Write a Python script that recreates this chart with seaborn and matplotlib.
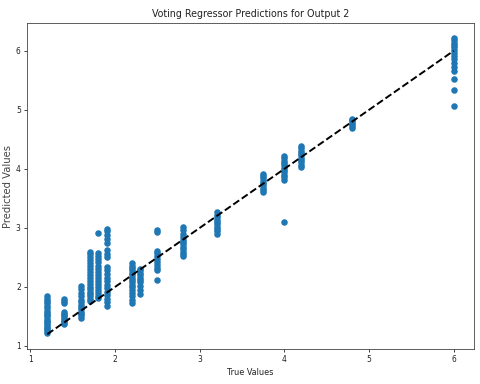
import numpy as np
import pandas as pd
import matplotlib
matplotlib.use("Agg")
import matplotlib.pyplot as plt
import seaborn as sns

# Predicted values grouped by their true value
true_levels = [1.2, 1.4, 1.6, 1.7, 1.8, 1.9, 2.2, 2.3, 2.5, 2.8, 3.2, 3.75, 4.0, 4.2, 4.8, 6.0]
pred_1_2 = [1.22, 1.25, 1.28, 1.31, 1.34, 1.37, 1.40, 1.43, 1.46, 1.50, 1.53, 1.56, 1.60, 1.64, 1.68, 1.72, 1.76, 1.80, 1.84]
pred_1_4 = [1.37, 1.40, 1.43, 1.46, 1.49, 1.52, 1.55, 1.58, 1.72, 1.76, 1.80]
pred_1_6 = [1.48, 1.52, 1.55, 1.58, 1.62, 1.66, 1.70, 1.74, 1.78, 1.84, 1.90, 1.96, 2.01]
pred_1_7 = [1.76, 1.80, 1.84, 1.88, 1.92, 1.96, 2.00, 2.05, 2.10, 2.15, 2.20, 2.25, 2.30, 2.35, 2.40, 2.45, 2.50, 2.55, 2.60]
pred_1_8 = [1.81, 1.85, 1.90, 1.95, 2.00, 2.05, 2.10, 2.15, 2.20, 2.25, 2.30, 2.36, 2.42, 2.48, 2.53, 2.58, 2.92]
pred_1_9 = [1.68, 1.74, 1.80, 1.86, 1.92, 1.98, 2.04, 2.10, 2.16, 2.22, 2.28, 2.34, 2.50, 2.56, 2.62, 2.75, 2.82, 2.88, 2.94, 2.98]
pred_2_2 = [1.72, 1.78, 1.84, 1.90, 1.95, 2.00, 2.04, 2.08, 2.12, 2.16, 2.20, 2.24, 2.28, 2.32, 2.36, 2.40]
pred_2_3 = [1.88, 1.95, 2.02, 2.08, 2.12, 2.16, 2.20, 2.24, 2.28, 2.31]
pred_2_5 = [2.12, 2.28, 2.32, 2.37, 2.42, 2.47, 2.52, 2.57, 2.61, 2.93, 2.96]
pred_2_8 = [2.52, 2.56, 2.60, 2.64, 2.68, 2.72, 2.76, 2.80, 2.85, 2.90, 2.96, 3.02]
pred_3_2 = [2.90, 2.94, 2.98, 3.02, 3.06, 3.10, 3.14, 3.18, 3.22, 3.27]
pred_3_75 = [3.60, 3.64, 3.68, 3.72, 3.76, 3.80, 3.84, 3.88, 3.92]
pred_4_0 = [3.10, 3.82, 3.86, 3.90, 3.94, 3.98, 4.02, 4.06, 4.10, 4.14, 4.18, 4.22]
pred_4_2 = [4.03, 4.07, 4.11, 4.15, 4.19, 4.23, 4.27, 4.31, 4.35, 4.39]
pred_4_8 = [4.70, 4.73, 4.76, 4.79, 4.82, 4.85]
pred_6_0 = [5.07, 5.34, 5.53, 5.65, 5.72, 5.80, 5.86, 5.92, 5.97, 6.02, 6.06, 6.10, 6.14, 6.18, 6.22]

pred_groups = [pred_1_2, pred_1_4, pred_1_6, pred_1_7, pred_1_8, pred_1_9, pred_2_2, pred_2_3,
               pred_2_5, pred_2_8, pred_3_2, pred_3_75, pred_4_0, pred_4_2, pred_4_8, pred_6_0]

title = "Voting Regressor Predictions for Output 2"
xlabel = "True Values"
ylabel = "Predicted Values"

rows = []
for t, preds in zip(true_levels, pred_groups):
    for p in preds:
        rows.append((t, p))
df = pd.DataFrame(rows, columns=["true", "pred"])

plt.rcParams['font.family'] = ['DejaVu Sans']
plt.rcParams['font.stretch'] = 'condensed'

fig = plt.figure(figsize=(4.8, 3.84), dpi=100)
ax = fig.add_axes([27/480, 35/384, 447/480, 326/384])

sns.scatterplot(data=df, x="true", y="pred", ax=ax, color="#1f77b4", s=22, linewidth=0, alpha=1)
lo, hi = df["true"].min(), df["true"].max()
ax.plot([lo, hi], [lo, hi], "k--", lw=1.4)

ax.set_title(title, fontsize=7.7, pad=4, color="#222222")
ax.set_xlabel(xlabel, fontsize=6.5, labelpad=3, color="#222222")
ax.set_ylabel(ylabel, fontsize=7.2, labelpad=2, color="#444444", fontstretch="normal")
ax.tick_params(labelsize=6, length=2.5, width=0.6, pad=2, colors="#222222")
for sp in ax.spines.values():
    sp.set_linewidth(0.6)
    sp.set_color("#444444")

fig.savefig("out.png", dpi=100)
